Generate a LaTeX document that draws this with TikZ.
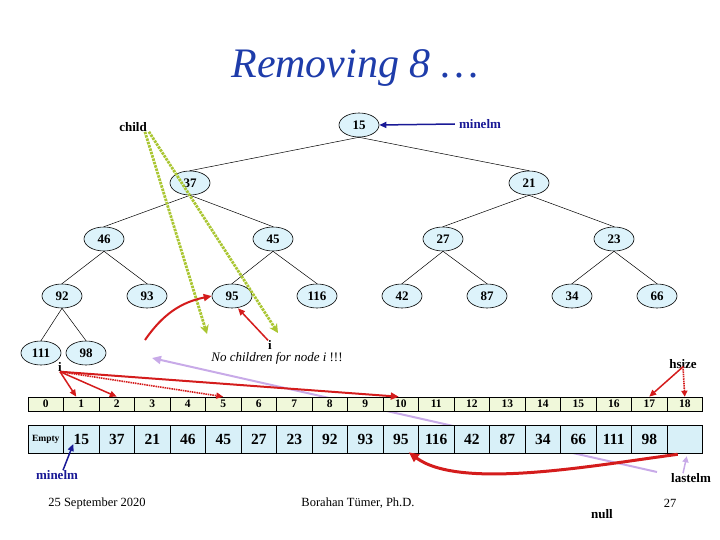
\documentclass[tikz,border=0pt]{standalone}
\usepackage{fontspec}
\setmainfont{Liberation Serif}
\usetikzlibrary{arrows.meta,shapes.geometric}
\definecolor{titleblue}{RGB}{30,60,170}
\definecolor{navy}{RGB}{25,25,150}
\definecolor{nodefill}{RGB}{221,243,251}
\definecolor{valfill}{RGB}{216,240,248}
\definecolor{idxfill}{RGB}{240,248,218}
\definecolor{heapred}{RGB}{212,28,28}
\definecolor{ygreen}{RGB}{170,198,50}
\definecolor{lav}{RGB}{200,170,232}
\tikzset{
  tnode/.style={ellipse,draw=black,line width=0.6pt,fill=nodefill,minimum width=40pt,minimum height=24pt,inner sep=0pt,font=\fontsize{13}{13}\selectfont\bfseries},
  idxcell/.style={draw=black,line width=0.6pt,fill=idxfill,minimum width=35.5pt,minimum height=14pt,inner sep=0pt,font=\fontsize{11.5}{11.5}\selectfont\bfseries},
  valcell/.style={draw=black,line width=0.6pt,fill=valfill,minimum width=35.5pt,minimum height=28pt,inner sep=0pt,font=\fontsize{15.5}{15.5}\selectfont\bfseries},
  tedge/.style={line width=0.5pt,black},
  redarr/.style={heapred,line width=2pt,-{Triangle[length=8pt,width=7pt]}},
  redthin/.style={heapred,line width=1.5pt,-{Triangle[length=7pt,width=6pt]}},
  greenarr/.style={ygreen,line width=2.8pt,dash pattern=on 2.5pt off 1pt,-{Stealth[length=9pt,width=9pt,inset=3pt]}},
  lavarr/.style={lav,line width=2pt,-{Triangle[length=9pt,width=8pt]}},
  bluearr/.style={navy,line width=1.5pt,-{Triangle[length=7pt,width=6pt]}},
  lbl/.style={font=\fontsize{13}{13}\selectfont\bfseries,inner sep=0pt},
  foot/.style={font=\fontsize{12.5}{12.5}\selectfont,inner sep=0pt}
}
\begin{document}
\begin{tikzpicture}[x=1pt,y=-1pt]
\useasboundingbox (0,0) rectangle (720,540);
% title
\node[font=\fontsize{42}{42}\selectfont\itshape,text=titleblue,inner sep=0pt] (title) at (355,68) {Removing 8 \dots};
% tree
\node[tnode] (n15) at (359,125) {15};
\node[tnode] (n37) at (190,183) {37};
\node[tnode] (n21) at (529,183) {21};
\node[tnode] (n46) at (104,239) {46};
\node[tnode] (n45) at (273,239) {45};
\node[tnode] (n27) at (443,239) {27};
\node[tnode] (n23) at (614,239) {23};
\node[tnode] (n92) at (62,296) {92};
\node[tnode] (n93) at (147,296) {93};
\node[tnode] (n95) at (232,296) {95};
\node[tnode] (n116) at (317,296) {116};
\node[tnode] (n42) at (402,296) {42};
\node[tnode] (n87) at (487,296) {87};
\node[tnode] (n34) at (572,296) {34};
\node[tnode] (n66) at (657,296) {66};
\node[tnode] (n111) at (41,353) {111};
\node[tnode] (n98) at (86,353) {98};
\foreach \p/\c in {n15/n37,n15/n21,n37/n46,n37/n45,n21/n27,n21/n23,n46/n92,n46/n93,n45/n95,n45/n116,n27/n42,n27/n87,n23/n34,n23/n66,n92/n111,n92/n98}
  \draw[tedge] (\p.south) -- (\c.north);
% labels
\node[lbl] (child) at (133,127) {child};
\node[lbl,text=navy] (mintop) at (480,124) {minelm};
\node[lbl] (itree) at (270,345) {i};
\node[font=\fontsize{13}{13}\selectfont\itshape,inner sep=0pt] (nochild) at (277,358) {No children for node i \textup{!!!}};
\node[lbl] (iarr) at (60,367) {i};
\node[lbl] (hsize) at (683,364) {hsize};
\node[lbl,text=navy] (minbot) at (57,475) {minelm};
\node[lbl] (lastelm) at (691,478) {lastelm};
\node[lbl] (null) at (602,514) {null};
\node[foot] (date) at (97,503) {25 September 2020};
\node[foot] (author) at (358,503) {Borahan Tümer, Ph.D.};
\node[foot] (page) at (670,503) {27};
% lavender line behind arrays
\coordinate (lavs) at (657,472);
\coordinate (lave) at (152,358);
\draw[lavarr] (lavs) -- (lave);
% arrays
\foreach \i in {0,...,18} {
  \node[idxcell] (x\i) at ({28+35.5*(\i+0.5)},404) {\i};
}
\foreach \v [count=\k from 0] in {{},15,37,21,46,45,27,23,92,93,95,116,42,87,34,66,111,98,{}} {
  \node[valcell] (v\k) at ({28+35.5*(\k+0.5)},439) {\v};
}
\node[font=\fontsize{9.5}{9.5}\selectfont\bfseries,inner sep=0pt] at (v0) {Empty};
% green arrows from child
\coordinate (g1) at (207,334);
\coordinate (g2) at (278,333);
\draw[greenarr] ([xshift=-2pt]child.south east) -- (g1);
\draw[greenarr] ([xshift=2pt]child.south east) -- (g2);
% blue arrows
\draw[bluearr] ([xshift=-4pt]mintop.west) -- (n15.east);
\draw[bluearr] ([xshift=6pt]minbot.north) -- ([xshift=-8pt,yshift=-5pt]v1.center);
% red arrows in tree
\coordinate (rc) at (145,340);
\draw[redarr] (rc) to[bend left=22] (n95.west);
\draw[redthin] (itree.north west) -- ([xshift=6pt]n95.south);
% red arrows from i to index cells
\draw[redthin] (iarr.south) -- ([xshift=-5pt]x1.north);
\draw[redthin] (iarr.south) -- (x2.north);
\draw[heapred,line width=1.6pt,dash pattern=on 1.5pt off 0.8pt,-{Triangle[length=7pt,width=6pt]}] (iarr.south) -- (x5.north);
\draw[redarr] (iarr.south) -- ([xshift=-2pt]x10.north);
% hsize arrows
\draw[redthin] ([yshift=2pt]hsize.south) -- (x17.north);
\draw[heapred,line width=1.6pt,dash pattern=on 1.5pt off 0.8pt,-{Triangle[length=6pt,width=6pt]}] ([yshift=2pt]hsize.south) -- (x18.north);
% big red curve from last cell to v10
\draw[heapred,line width=3pt,-{Triangle[length=10pt,width=9pt]}] ([xshift=-7pt,yshift=-1pt]v18.south) .. controls (590,466) and (460,490) .. ([xshift=8pt,yshift=1pt]v10.south);
% lastelm arrow
\draw[lav,line width=1.5pt,-{Triangle[length=6pt,width=6pt]}] ([xshift=-8pt]lastelm.north) -- ([xshift=2pt,yshift=-3pt]v18.south);
\end{tikzpicture}
\end{document}
